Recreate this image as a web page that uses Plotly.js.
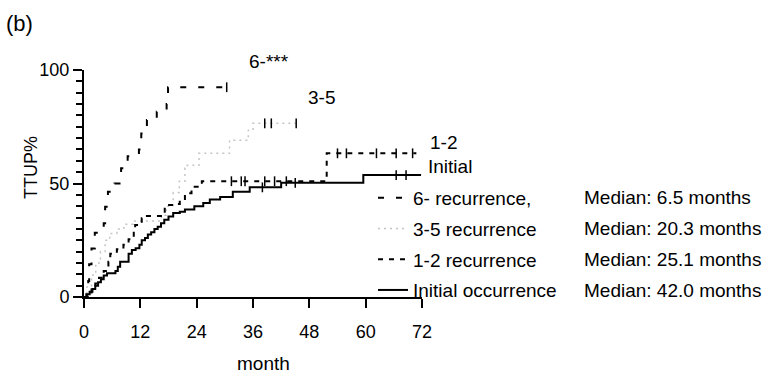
<!DOCTYPE html>
<html>
<head>
<meta charset="utf-8">
<script src="https://cdn.plot.ly/plotly-3.0.1.min.js"></script>
<style>html,body{margin:0;padding:0;background:#fff;}#chart{width:769px;height:374px;}</style>
</head>
<body>
<div id="chart"></div>
<script>
// ---- data ----
const seriesNames = ["6- recurrence,", "3-5 recurrence", "1-2 recurrence", "Initial occurrence"];
const medianTexts = ["Median: 6.5 months", "Median: 20.3 months", "Median: 25.1 months", "Median: 42.0 months"];
const curveLabels = ["6-***", "3-5", "1-2", "Initial"];

const months6 = [0, 0.5, 0.9, 1.1, 1.6, 2.3, 4.2, 4.5, 5.1, 6.5, 7.9, 9.3, 11.7, 12.2, 13.4, 15.5, 17.6, 17.9, 30.5];
const pct6    = [0, 3.5, 7, 14.4, 21.4, 28.3, 32.5, 39.8, 46.4, 50, 56.7, 62, 65, 72, 78, 81.6, 85, 92.4, 92.4];

const months35 = [0, 0.6, 1.6, 2.5, 3.5, 4.5, 5.5, 7, 8.5, 10.5, 16.5, 17.5, 19, 20.3, 21.5, 22, 24.5, 31, 35, 36, 45.5];
const pct35    = [0, 4.4, 9.7, 15, 20, 25, 28, 30, 32, 33.5, 36, 40, 46, 51, 56.7, 58, 63.3, 69, 73.5, 76.5, 76.5];

const months12 = [0, 0.8, 1.6, 2.4, 3.2, 4.2, 5.2, 5.6, 7.0, 8.4, 9.5, 10.6, 10.9, 12.3, 12.7, 16.9, 17.2, 19.0, 20.4, 21.5, 22.9, 25.1, 51.7, 70.8];
const pct12    = [0, 2, 4, 6, 8.5, 11.5, 15.5, 19, 21, 23, 25.4, 28.8, 31.7, 34.7, 35.7, 36, 40.5, 41, 42.7, 45.7, 48.6, 51, 63.3, 63.3];

const monthsInit = [0, 0.6, 1.2, 1.8, 2.4, 3.0, 3.6, 4.2, 4.9, 6.7, 7.2, 7.7, 9.5, 10.2, 11.0, 11.8, 12.3, 13.0, 13.6, 14.3, 15.0, 15.7, 16.4, 17.1, 18.0, 19.0, 20.4, 21.5, 23.5, 25.4, 26.8, 29.0, 31.7, 35.3, 42.0, 59.5, 71.8];
const pctInit    = [0, 1.2, 2.3, 3.5, 5, 6.5, 7.8, 9.5, 10.5, 11.5, 13.3, 15.5, 19, 20.7, 21.5, 23, 25, 26, 27.5, 28.5, 30, 31, 32.5, 34, 35.5, 37, 37.6, 38.6, 40, 41.4, 43, 44, 46.4, 48.3, 50.3, 53.7, 53.7];

// censored observations (tick marks)
const cens6X = [30.4];
const cens6Y = [92.4];
const cens35X = [38.5, 39.9, 45.2];
const cens35Y = [76.5, 76.5, 76.5];
const cens12X = [31.4, 33.5, 34.3, 38.5, 40.6, 43.1, 54, 55.9, 62.3, 66.5, 70];
const cens12Y = [51, 51, 51, 51, 51, 51, 63.3, 63.3, 63.3, 63.3, 63.3];
const censInitX = [38, 45, 66.5, 68.6];
const censInitY = [48.3, 50.3, 53.7, 53.7];

const xTicks = [0, 12, 24, 36, 48, 60, 72];
const yTicks = [0, 50, 100];

// ---- traces ----
const FONT = "Liberation Sans, Arial, Helvetica, sans-serif";
const styles = [
  {color: "#000000", width: 2, dash: "6px,12px"},
  {color: "#c4c4c4", width: 1.5, dash: "2px,4px"},
  {color: "#000000", width: 2, dash: "5px,6px"},
  {color: "#000000", width: 2, dash: "solid"}
];
const xs = [months6, months35, months12, monthsInit];
const ys = [pct6, pct35, pct12, pctInit];
const cxs = [cens6X, cens35X, cens12X, censInitX];
const cys = [cens6Y, cens35Y, cens12Y, censInitY];

const traces = [];
for (let i = 0; i < 4; i++) {
  traces.push({
    x: xs[i], y: ys[i], name: seriesNames[i], type: "scatter", mode: "lines",
    line: {shape: "hv", color: styles[i].color, width: styles[i].width, dash: styles[i].dash},
    legendgroup: "g" + i, showlegend: true, cliponaxis: false, hoverinfo: "skip"
  });
  traces.push({
    x: cxs[i], y: cys[i], type: "scatter", mode: "markers", showlegend: false,
    legendgroup: "g" + i,
    marker: {symbol: "line-ns-open", size: 7, color: "#000", line: {color: "#000", width: 1.5}},
    cliponaxis: false, hoverinfo: "skip"
  });
}

// ---- layout ----
const L = 84, R = 422, T = 70, B = 297;
const pw = R - L, ph = B - T;
const px2paperX = p => (p - L) / pw;
const px2paperY = p => (B - p) / ph;

const BIG = 19, TICK = 18;
const legendRowsPx = [197, 228, 259, 290];
const annotations = [];
for (let i = 0; i < 4; i++) {
  annotations.push({
    xref: "paper", yref: "paper", x: px2paperX(582), y: px2paperY(legendRowsPx[i]),
    xanchor: "left", yanchor: "middle", showarrow: false, text: medianTexts[i],
    font: {family: FONT, size: BIG, color: "#000"}
  });
}
const labelPos = [[269, 62], [321, 97], [443, 142], [450, 166]];
for (let i = 0; i < 4; i++) {
  annotations.push({
    xref: "paper", yref: "paper", x: px2paperX(labelPos[i][0]), y: px2paperY(labelPos[i][1]),
    xanchor: "center", yanchor: "middle", showarrow: false, text: curveLabels[i],
    font: {family: FONT, size: BIG, color: "#000"}
  });
}
annotations.push({
  xref: "paper", yref: "paper", x: px2paperX(31), y: px2paperY(168), textangle: -90,
  xanchor: "center", yanchor: "middle", showarrow: false, text: "TTUP%",
  font: {family: FONT, size: TICK, color: "#000"}
});
annotations.push({
  xref: "paper", yref: "paper", x: px2paperX(263), y: px2paperY(363),
  xanchor: "center", yanchor: "middle", showarrow: false, text: "month",
  font: {family: FONT, size: BIG, color: "#000"}
});
annotations.push({
  xref: "paper", yref: "paper", x: px2paperX(19), y: px2paperY(24),
  xanchor: "center", yanchor: "middle", showarrow: false, text: "(b)",
  font: {family: FONT, size: 22, color: "#000"}
});

const layout = {
  width: 769, height: 374,
  margin: {l: L, r: 769 - R, t: T, b: 374 - B, pad: 0},
  paper_bgcolor: "#fff", plot_bgcolor: "#fff",
  font: {family: FONT, size: BIG, color: "#000"},
  showlegend: true,
  legend: {
    x: px2paperX(373), y: px2paperY(179), xanchor: "left", yanchor: "top",
    bgcolor: "rgba(0,0,0,0)", borderwidth: 0, tracegroupgap: 3,
    font: {family: FONT, size: BIG, color: "#000"}, itemwidth: 30
  },
  xaxis: {
    range: [0, 72], tickvals: xTicks, ticktext: xTicks.map(String),
    showgrid: false, zeroline: false, showline: true, linecolor: "#000", linewidth: 2,
    ticks: "outside", ticklen: 9, tickwidth: 2, tickcolor: "#000",
    ticklabelstandoff: 8,
    tickfont: {family: FONT, size: TICK, color: "#000"},
    fixedrange: true
  },
  yaxis: {
    range: [0, 100], tickvals: yTicks, ticktext: yTicks.map(String),
    showgrid: false, zeroline: false, showline: true, linecolor: "#000", linewidth: 2,
    ticks: "outside", ticklen: 9, tickwidth: 2, tickcolor: "#000",
    minor: {dtick: 5, tick0: 0, ticks: "outside", ticklen: 6, tickwidth: 2, tickcolor: "#000", showgrid: false},
    tickfont: {family: FONT, size: TICK, color: "#000"},
    fixedrange: true
  },
  annotations: annotations
};

Plotly.newPlot("chart", traces, layout, {displayModeBar: false, staticPlot: true});
</script>
</body>
</html>
